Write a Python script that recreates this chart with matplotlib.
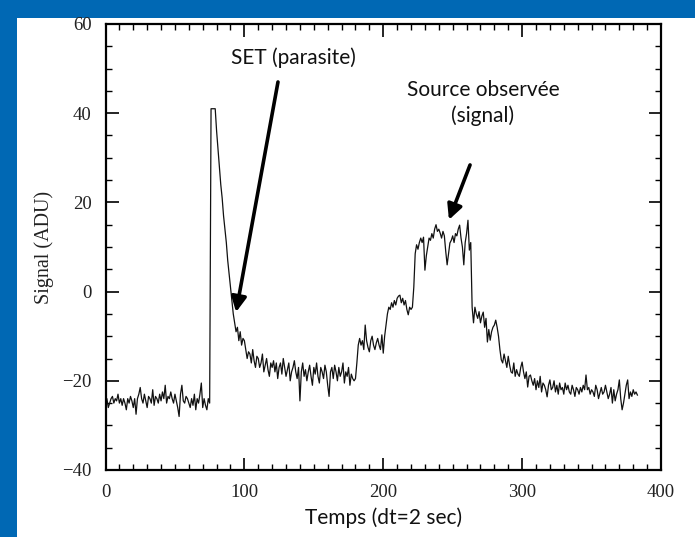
import matplotlib
matplotlib.use("Agg")
import matplotlib.pyplot as plt
from matplotlib.patches import Rectangle
from matplotlib.ticker import MultipleLocator
import numpy as np

# ---- data, one value per time step ----
time_start = 0
signal = [
    # 0-19
    -25, -24, -26, -25, -24, -23.5, -25, -24, -24.5, -23, -25, -24, -25.5, -24, -25, -26.5, -24, -25, -23.5, -24.5,
    # 20-39
    -26, -24, -27.5, -24, -23, -21.5, -24, -25, -23, -24.5, -26, -23.5, -24, -25, -22, -25.5, -23.5, -24, -25, -23,
    # 40-59
    -24.5, -22.5, -24, -21, -25, -23.5, -24, -22.5, -24, -25, -23, -24.5, -26, -28, -23, -21, -24.5, -25, -23.5, -24,
    # 60-75
    -25, -26, -24, -25.5, -23, -26.5, -24, -25, -23, -20.5, -26, -24, -25.5, -26.5, -24, -25,
    # 76-79
    41, 41, 41, 41,
    # 80-99
    36, 32, 28, 24, 21, 17, 14, 11, 7, 4, 1, -2, -5, -7, -9, -8, -11, -9, -12, -10.5,
    # 100-119
    -11, -13, -15, -13.5, -14, -16, -13, -15.5, -17, -14.5, -15, -17, -16, -14, -18, -16.5, -15, -17.5, -19, -16,
    # 120-139
    -17, -15.5, -18, -16, -19.5, -17, -16, -18.5, -15, -17, -19, -17.5, -16, -20, -18, -17, -15.5, -18, -19.5, -17,
    # 140-159
    -24.5, -18, -16, -19, -17.5, -20, -18, -16.5, -19, -21, -17, -18.5, -16, -19, -20.5, -17, -18, -19.5, -16.5, -18,
    # 160-179
    -21, -23.5, -18, -17, -19.5, -16.5, -18, -20, -17, -19, -18, -16, -20.5, -18, -19, -17, -21, -18.5, -19.5, -20,
    # 180-199
    -19.5, -16, -12, -10.5, -12, -11, -13, -7.5, -11, -12.5, -13.5, -11, -10, -12, -13, -11.5, -10.5, -12, -13, -9.7,
    # 200-219
    -13.8, -10, -7.5, -5, -3.5, -4, -2.5, -3.5, -2, -3, -1.5, -1, -0.8, -2.5, -1.5, -3, -2, -4, -5.2, -3.5,
    # 220-239
    -4, -3.5, 1, 8.5, 10.5, 9.5, 11, 12, 11, 12.2, 4.8, 8, 10, 12, 11.5, 13, 12, 14, 15, 13.5,
    # 240-259
    14, 13.1, 12, 13.5, 12.5, 9, 6, 8.5, 10.9, 11.5, 12.5, 11, 13, 12.5, 14, 14.9, 12, 10, 6, 11,
    # 260-279
    13, 16, 9.3, 11, -3.5, -7, -3.5, -5, -6, -4.5, -7, -5.5, -4.6, -8, -6, -11.3, -8.5, -10.9, -9, -8,
    # 280-299
    -7.5, -6.4, -8, -10, -13, -15.3, -16, -14, -15.5, -17, -14.5, -16.5, -18, -18.3, -16, -19, -17.5, -18.5, -19, -17,
    # 300-319
    -15.8, -18, -19.5, -18, -21.4, -19, -18.7, -20, -21, -19.5, -22, -20, -21.5, -19, -22.5, -20.5, -21, -22, -23.6, -21,
    # 320-339
    -19.8, -22, -21.5, -20, -22.5, -21, -23, -20.5, -22, -21.5, -23, -20.5, -22, -21, -22.5, -23, -21, -22, -23.5, -21.5,
    # 340-359
    -22, -23, -21.5, -22.5, -21, -22, -18.7, -22, -21.5, -23, -22, -22.5, -23.5, -21, -22, -24, -22.7, -21.5, -23, -22.5,
    # 360-383
    -21, -22.5, -24, -23, -21.5, -25, -22, -24.5, -23, -22, -19.8, -24, -26.5, -25, -23, -21, -19.8, -24, -22.5, -23.5,
    -22, -23, -22.5, -23.2,
]
time = np.arange(time_start, time_start + len(signal))

x_ticks = [0, 100, 200, 300, 400]
y_ticks = [-40, -20, 0, 20, 40, 60]
x_label = "Temps (dt=2 sec)"
y_label = "Signal (ADU)"
note_set = "SET (parasite)"
note_src = "Source observée\n(signal)"

# ---- figure ----
W, H = 695, 537
fig = plt.figure(figsize=(W / 100, H / 100), dpi=100)
fig.patch.set_facecolor("#0068b4")
fig.add_artist(Rectangle((17 / W, 0), 1, 1 - 18 / H, transform=fig.transFigure,
                         facecolor="white", edgecolor="none", zorder=0))

ax = fig.add_axes([105.5 / W, 1 - 470 / H, (661 - 105.5) / W, (470 - 24) / H])
ax.plot(time, signal, color="#111111", lw=0.9)

ax.set_xlim(0, 400)
ax.set_ylim(-40, 60)
ax.set_xticks(x_ticks)
ax.set_yticks(y_ticks)
ax.xaxis.set_minor_locator(MultipleLocator(10))
ax.yaxis.set_minor_locator(MultipleLocator(5))
ax.tick_params(which="both", direction="in", top=True, right=True, color="black")
ax.tick_params(which="major", length=9, width=1.2, pad=10)
ax.tick_params(which="minor", length=4.5, width=1.0)
for sp in ax.spines.values():
    sp.set_linewidth(1.6)

serif = "Liberation Serif"
for lab in ax.get_xticklabels() + ax.get_yticklabels():
    lab.set_fontfamily(serif)
    lab.set_fontsize(13.5)
    lab.set_color("#222222")

ax.set_ylabel(y_label, family=serif, fontsize=14.5, color="#222222", labelpad=6)
ax.set_xlabel(x_label, family="Lato", fontsize=15, color="#111111", labelpad=5)

arrow = dict(arrowstyle="-|>,head_length=0.9,head_width=0.45", color="black", lw=2.6,
             shrinkA=0, shrinkB=0)
ax.annotate("", xy=(94, -4.6), xytext=(124.2, 47), arrowprops=arrow)
ax.annotate("", xy=(247.3, 16.1), xytext=(262.5, 28.4), arrowprops=arrow)
ax.text(135, 52.5, note_set, family="Lato", fontsize=15, ha="center", va="center", color="#111111")
ax.text(271.8, 42.3, note_src, family="Lato", fontsize=15, ha="center", va="center",
        color="#111111", linespacing=1.3)

fig.savefig("out.png", dpi=100, facecolor=fig.get_facecolor())
